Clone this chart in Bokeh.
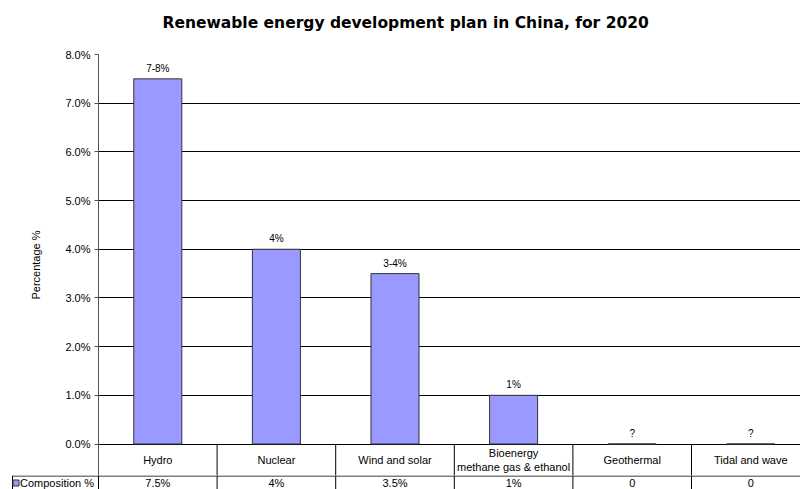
import numpy as np
from bokeh.plotting import figure
from bokeh.layouts import column
from bokeh.models import Range1d, FixedTicker, PrintfTickFormatter, Title
from bokeh.core.properties import value
from bokeh.embed import file_html
from bokeh.resources import INLINE

# ---------------- data ----------------
categories = ["Hydro", "Nuclear", "Wind and solar",
              "Bioenergy\nmethane gas & ethanol", "Geothermal", "Tidal and wave"]
composition = [7.5, 4.0, 3.5, 1.0, 0.0, 0.0]
bar_labels = ["7-8%", "4%", "3-4%", "1%", "?", "?"]
table_values = ["7.5%", "4%", "3.5%", "1%", "0", "0"]
y_ticks = [0, 1, 2, 3, 4, 5, 6, 7, 8]
series_name = "Composition %"

# ---------------- layout constants ----------------
FONT_NAME = "Liberation Sans"
FONT = value(FONT_NAME)
W, H = 800, 489
FRAME_LEFT, FRAME_TOP = 98, 54
TABLE_TOP = 475                       # canvas y of the value-row top line
ZERO_PX = 443.5                       # canvas y of 0 %
PX_PER_UNIT = (ZERO_PX - FRAME_TOP) / 8.0
COL_PX = 118.6                        # pixel width of one category column
X_END = (W - FRAME_LEFT) / COL_PX     # chart is clipped at the right edge
ROW1_BOTTOM = -(TABLE_TOP - ZERO_PX) / PX_PER_UNIT
ROW2_H = H - TABLE_TOP
BAR_COLOR = "#9999FF"

xs = np.arange(len(categories)) + 0.5
seps = np.arange(1, len(categories))

# ---------------- main chart ----------------
p = figure(width=W, height=TABLE_TOP, output_backend="svg", toolbar_location=None,
           x_range=Range1d(0, X_END), y_range=Range1d(ROW1_BOTTOM, 8.0),
           min_border_left=FRAME_LEFT, min_border_right=0,
           min_border_top=FRAME_TOP, min_border_bottom=0,
           title="Renewable energy development plan in China, for 2020")
p.frame_align = False
p.outline_line_color = None
p.background_fill_color = "white"
p.border_fill_color = "white"

p.title.align = "left"
p.title.offset = 64
p.title.text_font = "DejaVu Sans"
p.title.text_font_size = "15.5px"
p.title.text_font_style = "bold"
p.title.text_color = "black"
p.title.standoff = 10
# thin empty spacer between the title and the plot area
p.add_layout(Title(text=" ", text_font_size="8px", standoff=7), "above")

p.xaxis.visible = False
p.xgrid.visible = False

ticker = FixedTicker(ticks=y_ticks)
p.yaxis.ticker = ticker
p.yaxis.formatter = PrintfTickFormatter(format="%.1f%%")
p.yaxis.axis_line_color = "#555555"
p.yaxis.major_tick_line_color = "#555555"
p.yaxis.major_tick_out = 4
p.yaxis.major_tick_in = 0
p.yaxis.minor_tick_line_color = None
p.yaxis.major_label_standoff = 4
p.yaxis.major_label_text_font = FONT_NAME
p.yaxis.major_label_text_font_size = "11px"
p.yaxis.major_label_text_color = "black"
p.yaxis.axis_label = "Percentage %"
p.yaxis.axis_label_text_font = FONT_NAME
p.yaxis.axis_label_text_font_size = "11px"
p.yaxis.axis_label_text_font_style = "normal"
p.yaxis.axis_label_text_color = "black"
p.yaxis.axis_label_standoff = 20

p.ygrid.ticker = ticker
p.ygrid.grid_line_color = "black"
p.ygrid.grid_line_width = 1

p.vbar(x=xs, top=composition, bottom=0, width=0.405,
       fill_color=BAR_COLOR, line_color="#333333", line_width=1)

p.text(x=xs, y=composition, text=bar_labels, text_font=FONT,
       text_font_size="10px", text_align="center", text_baseline="bottom",
       y_offset=-5, text_color="black")

# category row of the data table
p.segment(x0=seps, y0=0, x1=seps, y1=ROW1_BOTTOM, line_color="black", line_width=1)
p.text(x=xs, y=ROW1_BOTTOM / 2, text=categories, text_font=FONT,
       text_font_size="11px", text_align="center", text_baseline="middle",
       text_color="black", text_line_height=1.15)

# ---------------- data-table value row ----------------
t_start = -FRAME_LEFT / COL_PX
cell_left = (12 - FRAME_LEFT) / COL_PX
t = figure(width=W, height=ROW2_H, output_backend="svg", toolbar_location=None,
           x_range=Range1d(t_start, X_END), y_range=Range1d(0, ROW2_H),
           min_border=0)
t.frame_align = False
t.outline_line_color = None
t.axis.visible = False
t.grid.visible = False
t.background_fill_color = "white"
t.border_fill_color = "white"

t.segment(x0=[cell_left], y0=[ROW2_H - 0.5], x1=[X_END], y1=[ROW2_H - 0.5],
          line_color="black")
vlines = np.concatenate([[cell_left, 0], seps])
t.segment(x0=vlines, y0=0, x1=vlines, y1=ROW2_H, line_color="black")
t.scatter(x=[cell_left + 3.5 / COL_PX], y=[6.5], marker="square", size=6,
          fill_color=BAR_COLOR, line_color="#333333")
t.text(x=[cell_left + 7.5 / COL_PX], y=[7], text=[series_name], text_font=FONT,
       text_font_size="11px", text_align="left", text_baseline="middle",
       text_color="black")
t.text(x=xs, y=7, text=table_values, text_font=FONT, text_font_size="11px",
       text_align="center", text_baseline="middle", text_color="black")

layout = column(p, t, spacing=0)
open("out.html", "w").write(file_html(layout, INLINE))
